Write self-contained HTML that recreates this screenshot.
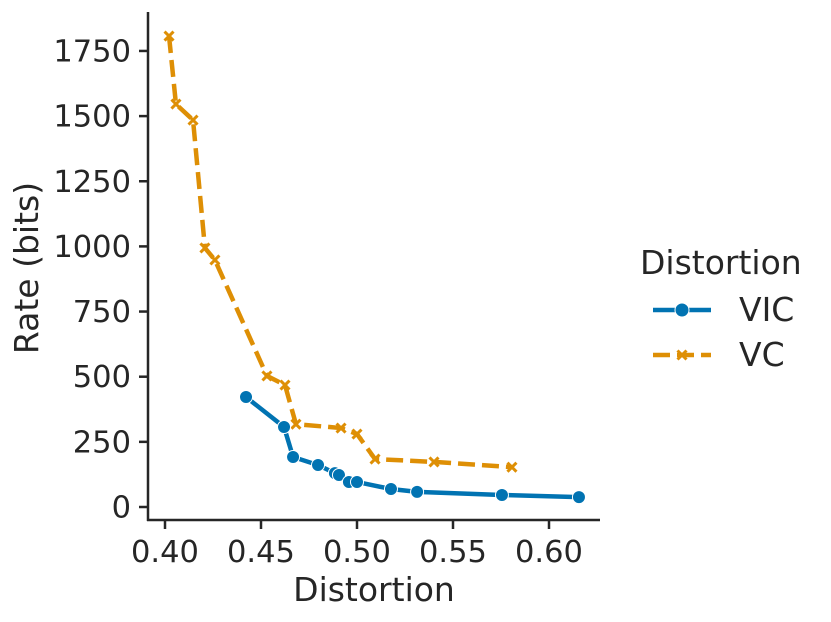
<!DOCTYPE html>
<html><head><meta charset="utf-8"><style>
body{margin:0;background:#fff;}
svg{display:block;font-family:"DejaVu Sans","Liberation Sans",sans-serif;}
</style></head><body>
<svg id="c" width="831" height="622"></svg>
<script>
const xTicks=[0.40,0.45,0.50,0.55,0.60];
const yTicks=[0,250,500,750,1000,1250,1500,1750];
const vicX=[0.4422,0.462,0.4667,0.4797,0.4885,0.4906,0.4958,0.5,0.5177,0.5313,0.5755,0.6156];
const vicY=[422,307,192,161,130,123,96,96,69,58,46,38];
const vcX=[0.4021,0.4057,0.4146,0.4208,0.426,0.4531,0.4625,0.4682,0.4917,0.5,0.5094,0.5401,0.5807];
const vcY=[1807,1546,1485,994,948,503,468,318,303,280,184,173,153];
const NS="http://www.w3.org/2000/svg";
const svg=document.getElementById('c');
function sx(v){return 165+(v-0.4)*1920;}
function sy(v){return 507-v*0.2606;}
function mk(t,a,p){const e=document.createElementNS(NS,t);for(const k in a)e.setAttribute(k,a[k]);(p||svg).appendChild(e);return e;}
let e=mk('line',{x1:148,y1:12,x2:148,y2:521,stroke:'#262626','stroke-width':2.5});


e=mk('line',{x1:147,y1:520,x2:600,y2:520,stroke:'#262626','stroke-width':2.5});


yTicks.forEach(v=>{
  const y=sy(v);
  let t=mk('line',{x1:139,y1:y,x2:148,y2:y,stroke:'#262626','stroke-width':2.5});
  
  
  let l=mk('text',{x:131,y:y+10.5,'text-anchor':'end','font-size':30.5,fill:'#262626'});
  l.textContent=v;
  
  
});
xTicks.forEach(v=>{
  const x=sx(v);
  let t=mk('line',{x1:x,y1:520,x2:x,y2:529,stroke:'#262626','stroke-width':2.5});
  
  
  let l=mk('text',{x:x,y:562,'text-anchor':'middle','font-size':30.5,fill:'#262626'});
  l.textContent=v.toFixed(2);
  
  
});
e=mk('text',{x:374,y:601,'text-anchor':'middle','font-size':33,fill:'#262626'});
e.textContent='Distortion';


e=mk('text',{x:0,y:0,transform:'translate(38,268) rotate(-90)','text-anchor':'middle','font-size':33,fill:'#262626'});
e.textContent='Rate (bits)';


function cross(x,y,col,p){
  return mk('path',{d:`M${x-4.5},${y-4.5}L${x+4.5},${y+4.5}M${x-4.5},${y+4.5}L${x+4.5},${y-4.5}`,stroke:col,'stroke-width':3},p);
}
const orange='#de8f05', blue='#0173b2';
let pts=vcX.map((v,i)=>sx(v)+','+sy(vcY[i])).join(' ');
e=mk('polyline',{points:pts,fill:'none',stroke:orange,'stroke-width':4.5,'stroke-dasharray':'17,7'});


vcX.forEach((v,i)=>{
  const m=cross(sx(v),sy(vcY[i]),orange);
  
  
});
pts=vicX.map((v,i)=>sx(v)+','+sy(vicY[i])).join(' ');
e=mk('polyline',{points:pts,fill:'none',stroke:blue,'stroke-width':4.5});


vicX.forEach((v,i)=>{
  const m=mk('circle',{cx:sx(v),cy:sy(vicY[i]),r:6.5,fill:blue,stroke:'#fff','stroke-width':1});
  
  
});
e=mk('text',{x:640,y:274,'font-size':33,fill:'#262626'});
e.textContent='Distortion';


e=mk('line',{x1:653,y1:310,x2:711,y2:310,stroke:blue,'stroke-width':4.5});


e=mk('circle',{cx:682,cy:310,r:7,fill:blue,stroke:'#fff','stroke-width':1});


e=mk('text',{x:739,y:321,'font-size':33,fill:'#262626'});
e.textContent='VIC';


e=mk('line',{x1:653,y1:355,x2:711,y2:355,stroke:orange,'stroke-width':4.5,'stroke-dasharray':'17,7'});


e=cross(682,355,orange);


e=mk('text',{x:739,y:366,'font-size':33,fill:'#262626'});
e.textContent='VC';


</script>
</body></html>
